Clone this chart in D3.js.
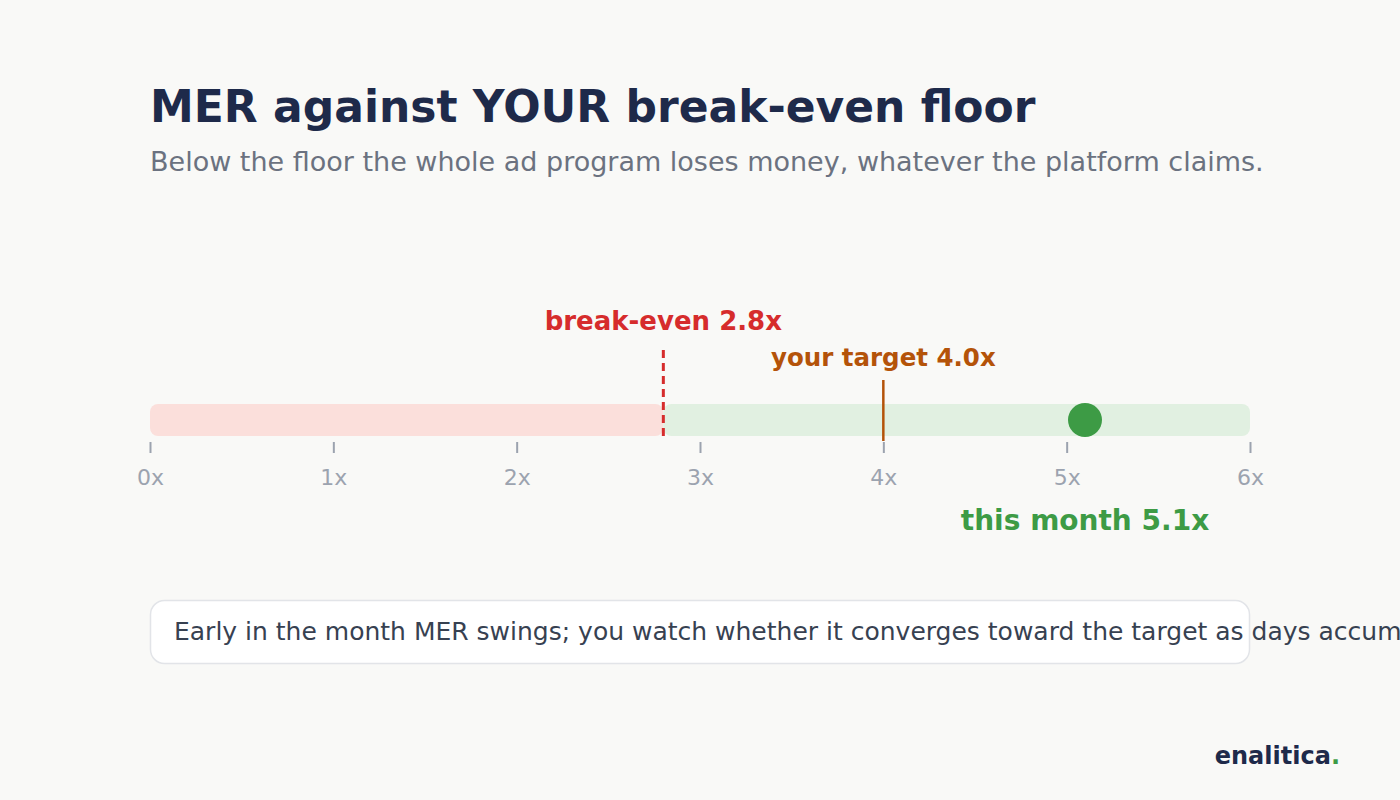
<!DOCTYPE html>
<html>
<head>
<meta charset="utf-8">
<script src="https://cdn.jsdelivr.net/npm/d3@7"></script>
<style>
  body { margin: 0; background: #f9f9f7; font-family: "DejaVu Sans", sans-serif; overflow: hidden; }
</style>
</head>
<body>
<div id="chart"></div>
<script>
// values
let tickValues = [0, 1, 2, 3, 4, 5, 6];
let tickLabels = ["0x", "1x", "2x", "3x", "4x", "5x", "6x"];
let markerNames = ["break-even", "your target", "this month"];
let markerValues = [2.8, 4.0, 5.1];
let title = "MER against YOUR break-even floor";
let subtitle = "Below the floor the whole ad program loses money, whatever the platform claims.";
let note = "Early in the month MER swings; you watch whether it converges toward the target as days accumulate.";

let width = 1400;
let height = 800;

let svg = d3.select("#chart").append("svg").attr("width", width).attr("height", height);
svg.append("rect").attr("width", width).attr("height", height).attr("fill", "#f9f9f7");

svg.append("text").attr("x", 150).attr("y", 122)
    .style("font-size", "44px").style("font-weight", "bold").attr("fill", "#1e2a4a")
    .text(title);
svg.append("text").attr("x", 150).attr("y", 171)
    .style("font-size", "27px").attr("fill", "#6b7280")
    .text(subtitle);

let xScale = d3.scaleLinear().domain([0, 6]).range([150, 1250]);
let barY = 420;
let breakEven = markerValues[0], target = markerValues[1], current = markerValues[2];

// red zone below floor, green zone above
svg.append("rect")
    .attr("x", xScale(0)).attr("y", barY - 16)
    .attr("width", xScale(breakEven) - xScale(0)).attr("height", 32)
    .attr("rx", 8).attr("fill", "#fbdfdb");
svg.append("rect")
    .attr("x", xScale(breakEven)).attr("y", barY - 16)
    .attr("width", xScale(6) - xScale(breakEven)).attr("height", 32)
    .attr("rx", 8).attr("fill", "#e1f0e1");

// axis
let axis = svg.append("g").attr("transform", `translate(0, ${barY + 22})`)
    .call(d3.axisBottom(xScale).tickValues(tickValues).tickSize(11).tickPadding(16)
        .tickFormat((d, i) => tickLabels[i]));
axis.select(".domain").remove();
axis.selectAll(".tick line").attr("stroke", "#9ca3af").attr("stroke-width", 2);
axis.selectAll(".tick text").attr("fill", "#9ca3af")
    .style("font-size", "22px").style("font-family", "DejaVu Sans, sans-serif");

// break-even line
svg.append("line")
    .attr("x1", xScale(breakEven)).attr("x2", xScale(breakEven))
    .attr("y1", barY - 70).attr("y2", barY + 20)
    .attr("stroke", "#d62c2c").attr("stroke-width", 3).attr("stroke-dasharray", "8,5");
svg.append("text").attr("x", xScale(breakEven)).attr("y", barY - 90)
    .attr("text-anchor", "middle").style("font-size", "26px").style("font-weight", "bold")
    .attr("fill", "#d62c2c").text(markerNames[0] + " " + breakEven.toFixed(1) + "x");

// target line
svg.append("line")
    .attr("x1", xScale(target)).attr("x2", xScale(target))
    .attr("y1", barY - 40).attr("y2", barY + 21)
    .attr("stroke", "#b45309").attr("stroke-width", 2.5);
svg.append("text").attr("x", xScale(target)).attr("y", barY - 54)
    .attr("text-anchor", "middle").style("font-size", "24.5px").style("font-weight", "bold")
    .attr("fill", "#b45309").text(markerNames[1] + " " + target.toFixed(1) + "x");

// this month dot
svg.append("circle").attr("cx", xScale(current)).attr("cy", barY).attr("r", 17)
    .attr("fill", "#3d9b45");
svg.append("text").attr("x", xScale(current)).attr("y", barY + 110)
    .attr("text-anchor", "middle").style("font-size", "28px").style("font-weight", "bold")
    .attr("fill", "#3d9b45").text(markerNames[2] + " " + current.toFixed(1) + "x");

// note box (text runs past the right edge, as in the reference)
svg.append("rect").attr("x", 150.5).attr("y", 600.5).attr("width", 1099).attr("height", 63)
    .attr("rx", 14).attr("fill", "#ffffff").attr("stroke", "#e2e4e8").attr("stroke-width", 1.5);
svg.append("text").attr("x", 174).attr("y", 640)
    .style("font-size", "25px").attr("fill", "#374151").text(note);

// logo
let logo = svg.append("text").attr("x", 1340).attr("y", 764).attr("text-anchor", "end")
    .style("font-size", "24px").style("font-weight", "bold").attr("fill", "#1e2a4a");
logo.append("tspan").text("enalitica");
logo.append("tspan").attr("fill", "#3d9b45").text(".");
</script>
</body>
</html>
